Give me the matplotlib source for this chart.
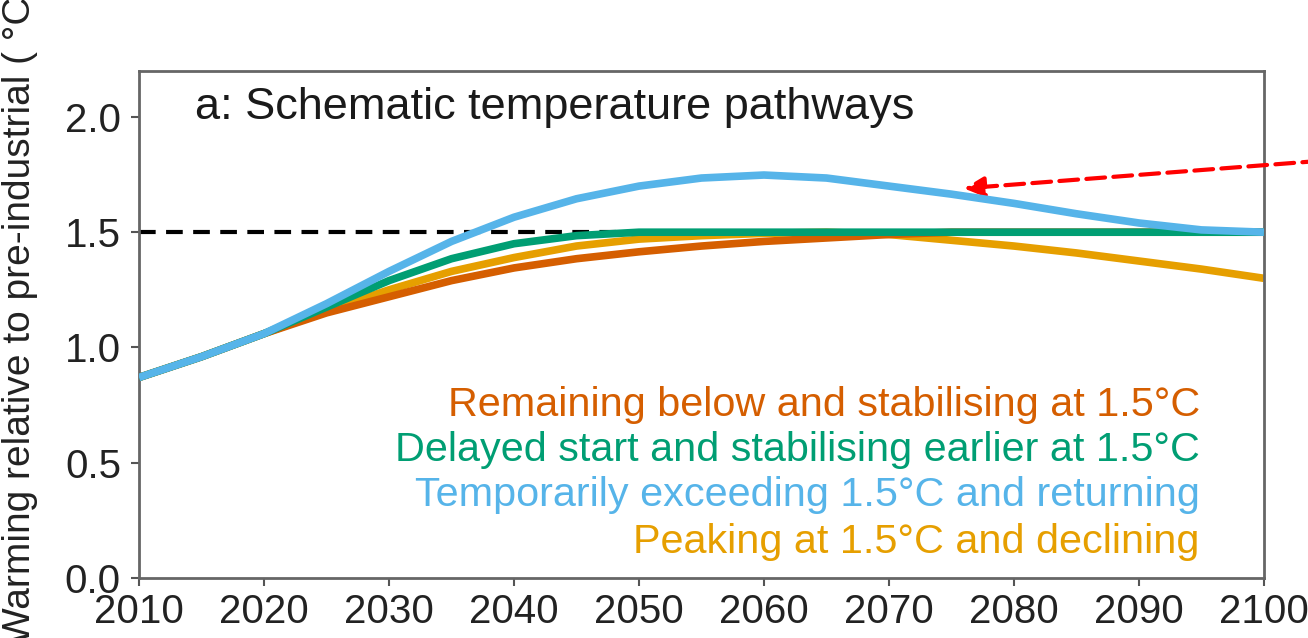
import matplotlib
matplotlib.use("Agg")
import matplotlib.pyplot as plt

plt.rcParams['font.family'] = ['Liberation Sans', 'DejaVu Sans']

years = [2010, 2015, 2020, 2025, 2030, 2035, 2040, 2045, 2050, 2055,
         2060, 2065, 2070, 2075, 2080, 2085, 2090, 2095, 2100]

# schematic pathways (deg C above pre-industrial)
remaining_below = [0.87, 0.96, 1.06, 1.15, 1.22, 1.29, 1.345, 1.385, 1.415, 1.44,
                   1.46, 1.475, 1.49, 1.50, 1.50, 1.50, 1.50, 1.50, 1.50]
delayed_start = [0.87, 0.96, 1.06, 1.175, 1.29, 1.385, 1.45, 1.485, 1.50, 1.50,
                 1.50, 1.50, 1.50, 1.50, 1.50, 1.50, 1.50, 1.50, 1.50]
overshoot = [0.87, 0.96, 1.06, 1.19, 1.33, 1.46, 1.565, 1.645, 1.70, 1.735,
             1.748, 1.735, 1.70, 1.665, 1.625, 1.58, 1.54, 1.51, 1.50]
peak_decline = [0.87, 0.96, 1.06, 1.16, 1.25, 1.33, 1.39, 1.44, 1.47, 1.485,
                1.495, 1.50, 1.49, 1.465, 1.44, 1.41, 1.375, 1.34, 1.30]

labels = ["Remaining below and stabilising at 1.5°C",
          "Delayed start and stabilising earlier at 1.5°C",
          "Temporarily exceeding 1.5°C and returning",
          "Peaking at 1.5°C and declining"]
colors = ["#D55E00", "#009E73", "#56B4E9", "#E69F00"]

fig = plt.figure(figsize=(13.08, 6.38), dpi=100)
ax = fig.add_axes([0.1063, 0.094, 0.86, 0.795])

ax.plot([2010, 2100], [1.5, 1.5], color="black", lw=3, ls=(0, (4, 2.5)), zorder=1)
ax.plot(years, peak_decline, color=colors[3], lw=5.5, solid_capstyle="butt", zorder=2)
ax.plot(years, remaining_below, color=colors[0], lw=5.5, solid_capstyle="butt", zorder=3)
ax.plot(years, delayed_start, color=colors[1], lw=5.5, solid_capstyle="butt", zorder=4)
ax.plot(years, overshoot, color=colors[2], lw=5.5, solid_capstyle="butt", zorder=5)

ax.set_xlim(2010, 2100)
ax.set_ylim(0, 2.2)
ax.set_xticks(range(2010, 2101, 10))
ax.set_yticks([0.0, 0.5, 1.0, 1.5, 2.0])
ax.set_yticklabels(["0.0", "0.5", "1.0", "1.5", "2.0"])
ax.tick_params(direction="out", length=6, width=1.5, colors="#555555",
               labelcolor="#222222", labelsize=29)
ax.tick_params(axis="x", pad=5)
ax.tick_params(axis="y", pad=7)
for s in ax.spines.values():
    s.set_color("#666666")
    s.set_linewidth(2)

ax.set_ylabel("Warming relative to pre-industrial ( °C)", fontsize=28, color="#222222")
ax.yaxis.set_label_coords(-0.09, 0.52)

ax.text(0.05, 0.927, "a: Schematic temperature pathways", transform=ax.transAxes,
        fontsize=32.5, color="#1a1a1a", ha="left", va="center")

for lab, col, yy in zip(labels, colors, [0.341, 0.252, 0.164, 0.071]):
    ax.text(0.943, yy, lab, transform=ax.transAxes, fontsize=29.8, color=col,
            ha="right", va="center")

ax.annotate("", xy=(2076.0, 1.69), xycoords="data",
            xytext=(1.01, 0.748), textcoords="figure fraction",
            arrowprops=dict(arrowstyle="-|>", color="red", lw=3, ls=(0, (4.5, 2)),
                            mutation_scale=30, shrinkA=0, shrinkB=0),
            annotation_clip=False)

fig.savefig("out.png", dpi=100)
